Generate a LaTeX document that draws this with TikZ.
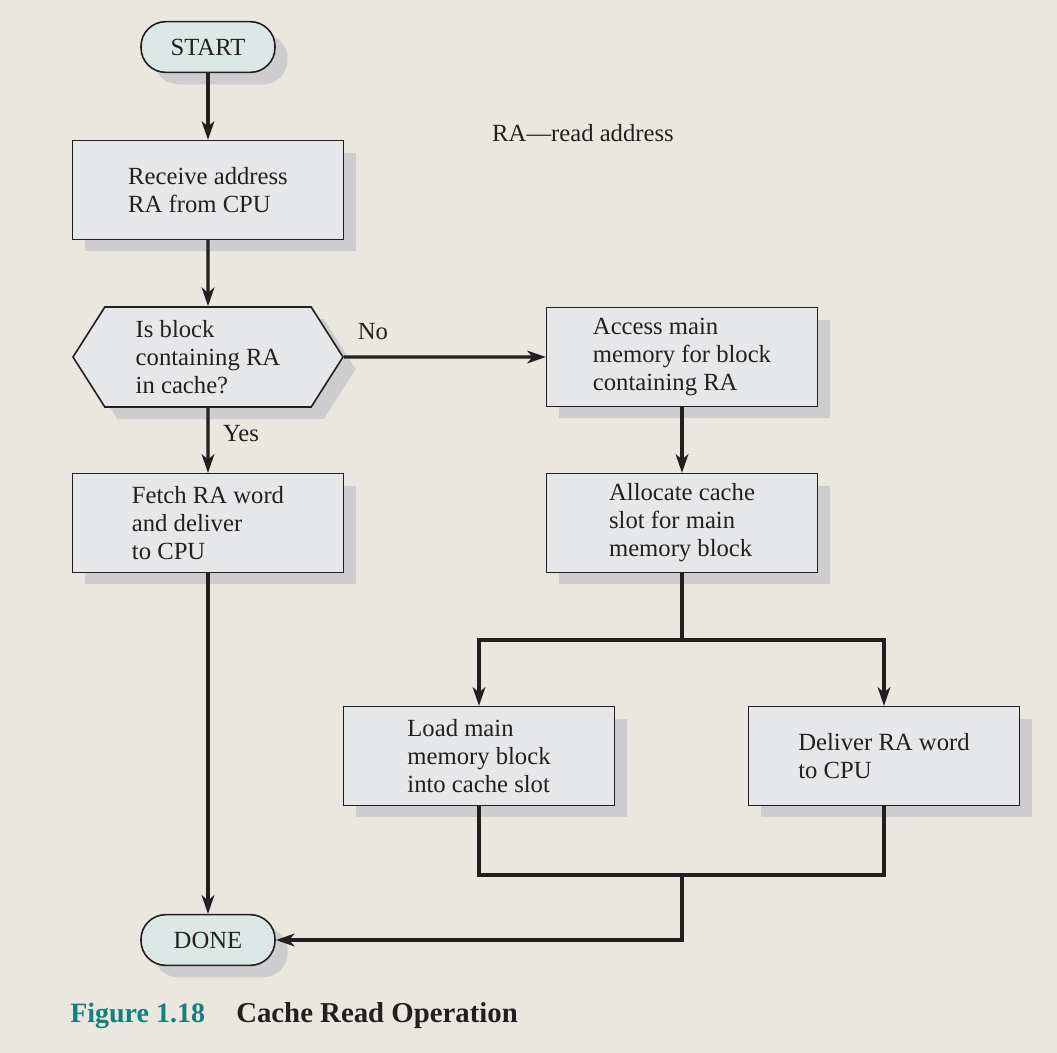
\documentclass[tikz,border=0pt]{standalone}
\usepackage{fontspec}
\setmainfont{Liberation Serif}
\usepackage{tikz}
\usetikzlibrary{shapes.symbols, arrows.meta, shadows}
\definecolor{bgcol}{HTML}{EAE7E1}
\definecolor{boxcol}{HTML}{E6E7E9}
\definecolor{pillcol}{HTML}{DCE8E6}
\definecolor{shadecol}{HTML}{CDCDCF}
\definecolor{inkcol}{HTML}{231F20}
\definecolor{figcol}{HTML}{13807A}
\tikzstyle{shade} = [drop shadow={shadow xshift=9.5pt, shadow yshift=-9pt,
    fill=shadecol, opacity=1}]
\tikzstyle{block} = [rectangle, draw=inkcol, fill=boxcol, line width=1.2pt,
    minimum width=203pt, minimum height=74pt, align=left, shade]
\tikzstyle{decision} = [signal, signal to=west and east, signal pointer angle=115,
    draw=inkcol, fill=boxcol, line width=1.2pt, inner xsep=0pt,
    minimum width=202.5pt, minimum height=75pt, align=left, shade]
\tikzstyle{terminal} = [rectangle, draw=inkcol, fill=pillcol, line width=1.2pt,
    rounded corners=18.5pt, minimum width=100.5pt, minimum height=38pt, shade]
\tikzstyle{line} = [draw=inkcol, line width=2.3pt,
    -{Stealth[length=14pt, width=9.5pt, inset=4pt]}]
\tikzstyle{wire} = [draw=inkcol, line width=2.3pt]

\begin{document}
\begin{tikzpicture}[x=0.75pt, y=-0.75pt, font=\fontsize{18.5}{21}\selectfont,
    text=inkcol]
                \fill [bgcol] (0,0) rectangle (1057,1053);
                \useasboundingbox (0,0) rectangle (1057,1053);
                \node [terminal] at (208,47) (start) {START};
                \node [block] at (208,190) (receive) {Receive address\\RA from CPU};
                \node [decision] at (208,357) (incache) {Is block\\containing RA\\in cache?};
                \node [block] at (682,357) (access) {Access main\\memory for block\\containing RA};
                \node [block] at (208,523) (fetch) {Fetch RA word\\and deliver\\to CPU};
                \node [block] at (682,523) (allocate) {Allocate cache\\slot for main\\memory block};
                \node [block] at (479,756) (load) {Load main\\memory block\\into cache slot};
                \node [block] at (884,756) (deliver) {Deliver RA word\\to CPU};
                \node [terminal] at (208,940) (done) {DONE};
                \node at (583,133) (legend) {RA---read address};
                \node at (373,332) (no) {No};
                \node at (241,434) (yes) {Yes};
                \coordinate (split) at (682,640);
                \coordinate (join) at (682,875);
                \coordinate (bend) at (682,940);
                \path [line] (start) -- (receive);
                \path [line] (receive) -- (incache);
                \path [line] (incache) -- (access);
                \path [line] (incache) -- (fetch);
                \path [line] (access) -- (allocate);
                \path [wire] (allocate) -- (split);
                \path [line] (split) -| (load);
                \path [line] (split) -| (deliver);
                \path [wire] (load) |- (join) -| (deliver);
                \path [line] (join) -- (bend) -- (done);
                \path [line] (fetch) -- (done);
                \node [anchor=base west, inner sep=0pt, text=figcol,
                    font=\fontsize{21}{24}\selectfont\bfseries] at (70,1022) (fignum) {Figure 1.18};
                \node [anchor=base west, inner sep=0pt,
                    font=\fontsize{21.6}{24}\selectfont\bfseries] at (236,1022) (caption) {Cache Read Operation};
            \end{tikzpicture}
\end{document}
